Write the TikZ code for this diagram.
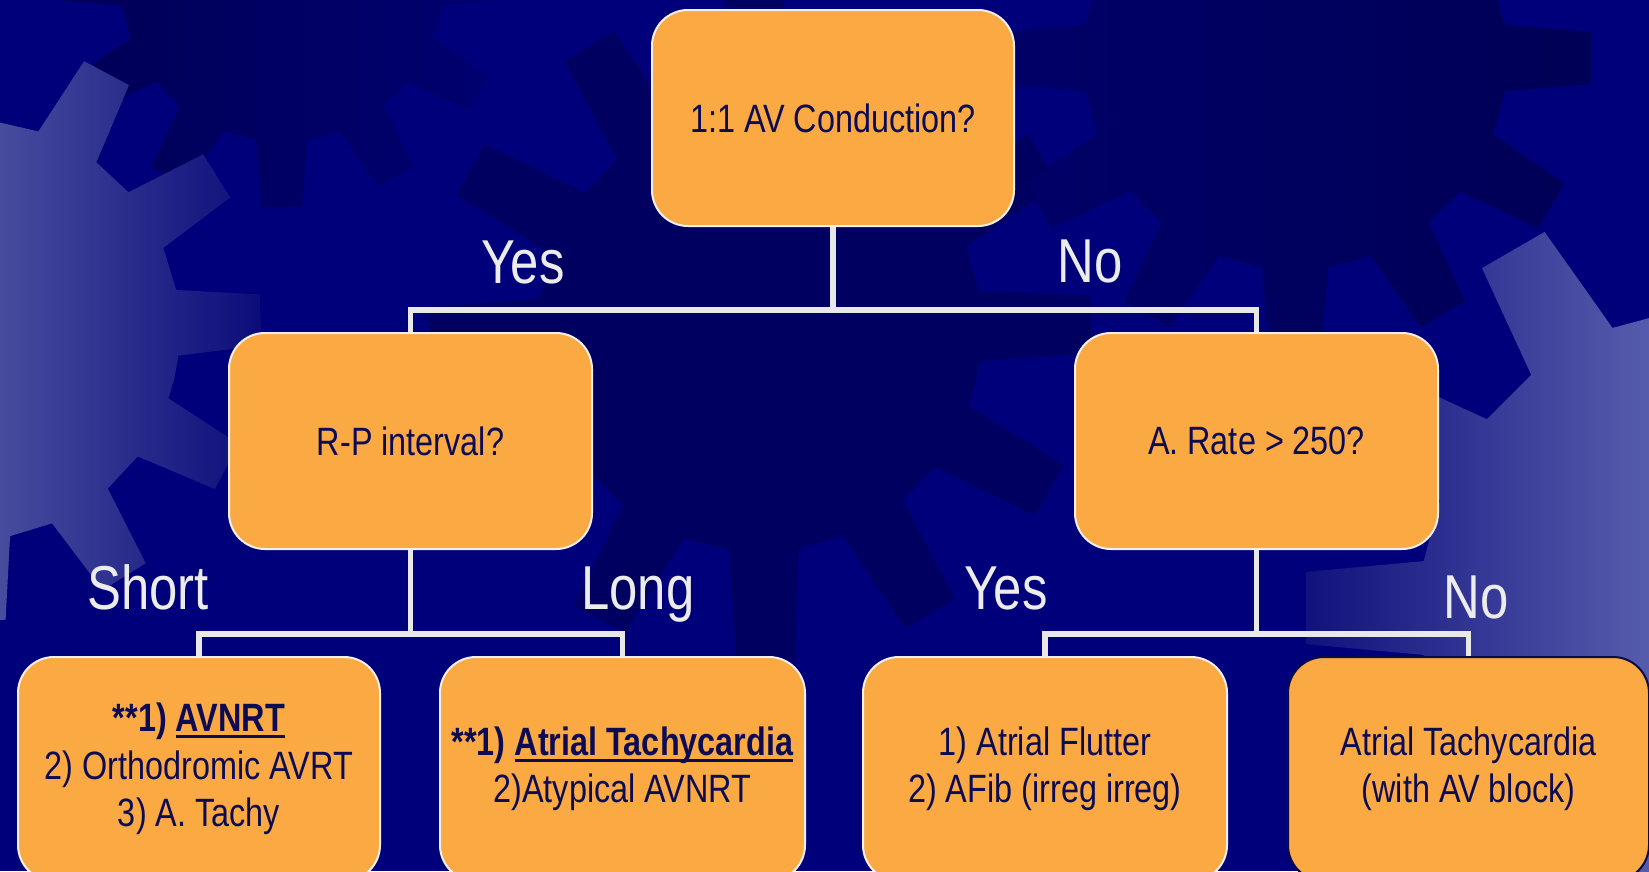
\documentclass[tikz,border=0pt]{standalone}
\usepackage{fontspec}
\setmainfont{Liberation Sans}[FakeStretch=0.82]
\definecolor{bgnavy}{RGB}{0,0,122}
\definecolor{darkgear}{RGB}{0,0,96}
\definecolor{darkgearB}{RGB}{0,0,86}
\definecolor{boxorange}{RGB}{251,169,66}
\definecolor{boxborder}{RGB}{240,240,240}
\definecolor{boxborderdark}{RGB}{10,10,70}
\definecolor{textnavy}{RGB}{12,12,85}
\definecolor{connwhite}{RGB}{232,232,232}
\definecolor{lblwhite}{RGB}{236,236,236}
\definecolor{lightA}{RGB}{72,76,158}
\definecolor{midA}{RGB}{45,48,140}
\definecolor{edgeA}{RGB}{10,10,120}
\definecolor{lightD}{RGB}{86,92,172}
\definecolor{midD}{RGB}{58,62,150}
\definecolor{edgeD}{RGB}{14,14,122}
\newcommand{\gearrel}[3]{({#3-15}:#1pt) \foreach \gk in {0,...,11}{ -- ({#3+30*\gk-9}:#1pt) -- ({#3+30*\gk-5}:#2pt) -- ({#3+30*\gk+5}:#2pt) -- ({#3+30*\gk+9}:#1pt) } -- cycle}
\newcommand{\ulx}[1]{\setbox0=\hbox{#1}\rlap{\rule[-0.17em]{\wd0}{0.075em}}\box0}
\tikzset{
  box/.style={rounded corners=36pt, fill=boxorange, draw=boxborder, line width=2pt,
    text=textnavy, align=center, inner sep=0pt, font=\fontsize{39.5}{47.5}\selectfont},
  conn/.style={draw=connwhite, line width=5.5pt},
  lbl/.style={text=lblwhite, font=\fontsize{62}{70}\selectfont, anchor=base, inner sep=0pt},
}
\begin{document}
\begin{tikzpicture}[x=1pt,y=-1pt]
\useasboundingbox (0,0) rectangle (1649,871);
\fill[bgnavy] (0,0) rectangle (1649,871);
\begin{scope}
\clip (0,0) rectangle (1649,871);
% dark gears
\begin{scope}[shift={(760,330)}]
  \fill[darkgear] \gearrel{222}{332}{1};
\end{scope}
\begin{scope}[shift={(282,-20)}]
  \shade[left color=darkgearB, right color=bgnavy!92!black] \gearrel{162}{228}{0};
\end{scope}
\begin{scope}[shift={(1295,58)}]
  \shade[left color=darkgear!70!bgnavy, right color=darkgearB] \gearrel{212}{297}{0};
\end{scope}
% light gear left
\begin{scope}[shift={(-30,330)}]
  \clip \gearrel{210}{292}{2};
  \shade[left color=lightA, middle color=midA, right color=edgeA] (30,-330) rectangle (300,541);
\end{scope}
% light gear right
\begin{scope}[shift={(1720,608)}]
  \clip \gearrel{300}{415}{0};
  \shade[left color=edgeD, middle color=midD, right color=lightD] (-430,-608) rectangle (-71,263);
\end{scope}
\end{scope}

% decision boxes
\node[box, minimum width=362pt, minimum height=216pt] (q1) at (833,118) {1:1 AV Conduction?};
\node[box, minimum width=363pt, minimum height=216pt] (q2) at (410.5,441) {R-P interval?};
\node[box, minimum width=363pt, minimum height=216pt] (q3) at (1256.5,441) {A. Rate > 250?};

\coordinate (j1) at (833,310);
\coordinate (j2) at (410.5,634);
\coordinate (j3) at (1256.5,634);

% result boxes (their bottoms run off the page)
\node[box, minimum width=362pt, minimum height=224pt] (r1) at (199,769)
  {\textbf{**1) \ulx{AVNRT}}\\2) Orthodromic AVRT\\3) A. Tachy};
\node[box, minimum width=365pt, minimum height=224pt] (r2) at (622.5,769)
  {\textbf{**1) \ulx{Atrial Tachycardia}}\\2)Atypical AVNRT};
\node[box, minimum width=364pt, minimum height=224pt] (r3) at (1045,769)
  {1) Atrial Flutter\\2) AFib (irreg irreg)};
\node[box, draw=boxborderdark, minimum width=361pt, minimum height=224pt] (r4) at (1468.5,769)
  {Atrial Tachycardia\\(with AV block)};

% connectors
\draw[conn] (q1.south) -- (j1);
\draw[conn] (q2.north) |- (j1) -| (q3.north);
\draw[conn] (q2.south) -- (j2);
\draw[conn] (r1.north) |- (j2) -| (r2.north);
\draw[conn] (q3.south) -- (j3);
\draw[conn] (r3.north) |- (j3) -| (r4.north);

% labels
\node[lbl] (lyes1) at (523,283) {Yes};
\node[lbl] (lno1) at (1090,282) {No};
\node[lbl] (lshort) at (148,609) {Short};
\node[lbl] (llong) at (638,609) {Long};
\node[lbl] (lyes2) at (1006,609) {Yes};
\node[lbl] (lno2) at (1476,618) {No};
\end{tikzpicture}
\end{document}
